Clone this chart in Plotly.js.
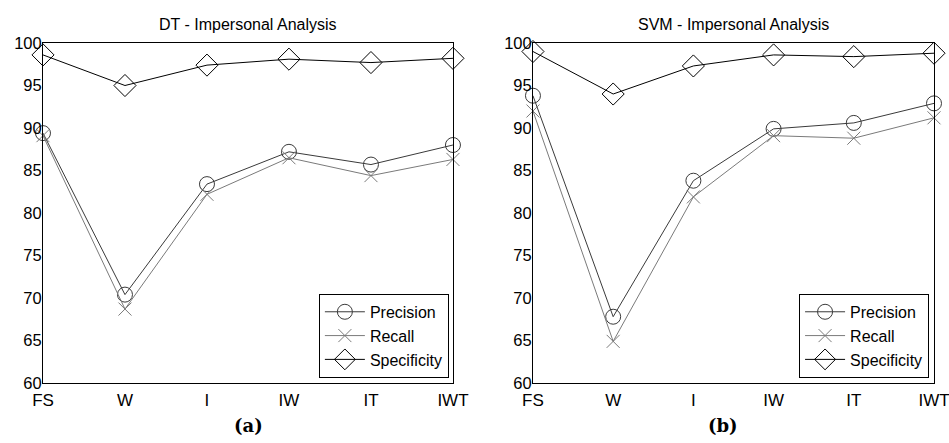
<!DOCTYPE html>
<html><head><meta charset="utf-8">
<script src="https://cdn.plot.ly/plotly-3.0.1.min.js"></script>
<style>html,body{margin:0;padding:0;background:#fff}#c{width:949px;height:443px}</style>
</head><body><div id="c"></div>
<script>
const categories = ["FS","W","I","IW","IT","IWT"];
const dtPrecision   = [89.4, 70.4, 83.4, 87.2, 85.7, 88.0];
const dtRecall      = [89.1, 68.7, 82.2, 86.5, 84.4, 86.3];
const dtSpecificity = [98.6, 95.0, 97.4, 98.1, 97.7, 98.2];
const svmPrecision   = [93.8, 67.8, 83.8, 89.9, 90.6, 92.9];
const svmRecall      = [92.0, 64.9, 81.9, 89.1, 88.8, 91.2];
const svmSpecificity = [99.0, 94.0, 97.3, 98.6, 98.4, 98.8];
const seriesNames = ["Precision","Recall","Specificity"];
const titles = ["DT - Impersonal Analysis","SVM - Impersonal Analysis"];
const panelLabels = ["(a)","(b)"];

const styles = [
  {color:"#3a3a3a", symbol:"circle-open", size:15},
  {color:"#7a7a7a", symbol:"x-thin-open", size:13},
  {color:"#000000", symbol:"diamond-open", size:17}
];
const panels = [
  {vals:[dtPrecision,dtRecall,dtSpecificity], xa:"x", ya:"y", lg:"legend"},
  {vals:[svmPrecision,svmRecall,svmSpecificity], xa:"x2", ya:"y2", lg:"legend2"}
];
const data = [];
panels.forEach(p => {
  p.vals.forEach((v,i) => {
    const s = styles[i];
    data.push({
      type:"scatter", mode:"lines+markers", x:categories, y:v, name:seriesNames[i],
      xaxis:p.xa, yaxis:p.ya, legend:p.lg, cliponaxis:false,
      line:{color:s.color, width:1},
      marker:{symbol:s.symbol, size:s.size, color:s.color, line:{color:s.color, width:1}}
    });
  });
});

const font = {family:"Liberation Sans, Arial, sans-serif", color:"#000"};
const xax = d => ({domain:d, type:"category", range:[0,5], showgrid:false, zeroline:false,
  showline:true, mirror:true, linecolor:"#000", linewidth:1, ticks:"",
  tickfont:Object.assign({size:17}, font), ticklabelstandoff:2, fixedrange:true});
const yax = anchor => ({domain:[0.1354,0.9029], range:[60,100], dtick:5, showgrid:false, zeroline:false,
  showline:true, mirror:true, linecolor:"#000", linewidth:1, ticks:"", anchor:anchor,
  tickfont:Object.assign({size:16.5}, font), ticklabelstandoff:-3});

const legendBase = {bgcolor:"#fff", bordercolor:"#000", borderwidth:1,
  font:Object.assign({size:16}, font), xanchor:"right", yanchor:"bottom",
  tracegroupgap:0, itemwidth:40};

const titleFont = Object.assign({size:16}, font);
const labelFont = {family:"DejaVu Serif, serif", size:18, color:"#000"};
const layout = {
  width:949, height:443, margin:{l:0,r:0,t:0,b:0},
  paper_bgcolor:"#fff", plot_bgcolor:"#fff", font:font, showlegend:true,
  xaxis: Object.assign(xax([0.0453,0.4773]), {anchor:"y"}),
  yaxis: yax("x"),
  xaxis2: Object.assign(xax([0.5616,0.9842]), {anchor:"y2"}),
  yaxis2: yax("x2"),
  legend: Object.assign({x:0.473, y:0.147}, legendBase),
  legend2: Object.assign({x:0.979, y:0.147}, legendBase),
  annotations:[
    {text:titles[0], xref:"paper", yref:"paper", x:(0.0453+0.4773)/2, y:0.9436, xanchor:"center", yanchor:"middle", showarrow:false, font:titleFont},
    {text:titles[1], xref:"paper", yref:"paper", x:(0.5616+0.9842)/2, y:0.9436, xanchor:"center", yanchor:"middle", showarrow:false, font:titleFont},
    {text:"<b>"+panelLabels[0]+"</b>", xref:"paper", yref:"paper", x:0.262, y:0.0406, xanchor:"center", yanchor:"middle", showarrow:false, font:labelFont},
    {text:"<b>"+panelLabels[1]+"</b>", xref:"paper", yref:"paper", x:0.762, y:0.0406, xanchor:"center", yanchor:"middle", showarrow:false, font:labelFont}
  ]
};
Plotly.newPlot("c", data, layout, {displayModeBar:false, staticPlot:true});
</script></body></html>
